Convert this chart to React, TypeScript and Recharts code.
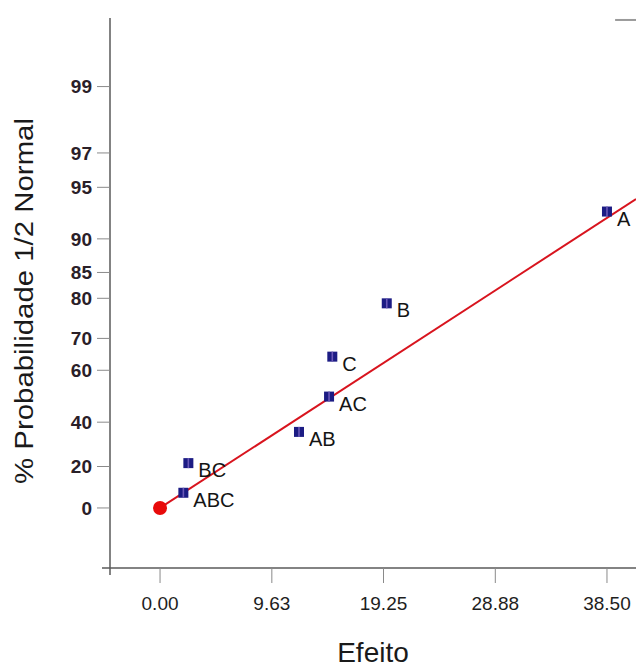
import {
  ComposedChart,
  Line,
  Scatter,
  XAxis,
  YAxis,
  ReferenceLine,
  Label,
} from 'recharts'

// Effects and their half-normal probability (%)
const effectNames = ['ABC', 'BC', 'AB', 'AC', 'C', 'B', 'A']
const effectValues = [2.01, 2.44, 11.97, 14.56, 14.84, 19.53, 38.5]
const effectProbs = [7.4, 21.6, 35.8, 50.4, 64.5, 78.9, 93.0]

// Reference line through the origin
const fitEffects = [0, 41]
const fitProbs = [0, 94.1]

const xTicks = [0, 9.63, 19.25, 28.88, 38.5]
const probTicks = [0, 20, 40, 60, 70, 80, 85, 90, 95, 97, 99]

const FONT = '"Liberation Sans", Arial, sans-serif'

// inverse standard normal CDF (Acklam's rational approximation)
const invNorm = (p: number) => {
  const a = [-39.69683028665376, 220.9460984245205, -275.9285104469687, 138.357751867269, -30.66479806614716, 2.506628277459239]
  const b = [-54.47609879822406, 161.5858368580409, -155.6989798598866, 66.80131188771972, -13.28068155288572]
  const c = [-0.007784894002430293, -0.3223964580411365, -2.400758277161838, -2.549732539343734, 4.374664141464968, 2.938163982698783]
  const d = [0.007784695709041462, 0.3224671290700398, 2.445134137142996, 3.754408661907416]
  const pl = 0.02425
  if (p < pl) {
    const q = Math.sqrt(-2 * Math.log(p))
    return (((((c[0] * q + c[1]) * q + c[2]) * q + c[3]) * q + c[4]) * q + c[5]) /
      ((((d[0] * q + d[1]) * q + d[2]) * q + d[3]) * q + 1)
  }
  if (p > 1 - pl) {
    const q = Math.sqrt(-2 * Math.log(1 - p))
    return -(((((c[0] * q + c[1]) * q + c[2]) * q + c[3]) * q + c[4]) * q + c[5]) /
      ((((d[0] * q + d[1]) * q + d[2]) * q + d[3]) * q + 1)
  }
  const q = p - 0.5
  const r = q * q
  return (((((a[0] * r + a[1]) * r + a[2]) * r + a[3]) * r + a[4]) * r + a[5]) * q /
    (((((b[0] * r + b[1]) * r + b[2]) * r + b[3]) * r + b[4]) * r + 1)
}

// half-normal probability (%) -> position on the probability axis
const toZ = (pct: number) => (pct <= 0 ? 0 : invNorm(0.5 + pct / 200))

const points = effectNames.map((name, i) => ({
  name,
  x: effectValues[i],
  z: toZ(effectProbs[i]),
}))
const fitData = fitEffects.map((x, i) => ({ x, z: toZ(fitProbs[i]) }))
const origin = [fitData[0]]

const X_MIN = -4.31
const X_MAX = 41
const Y_MIN = -0.367
const Y_MAX = 2.995

const EffectMarker = (props: any) => {
  const { cx, cy, payload } = props
  return (
    <g>
      <rect x={cx - 5} y={cy - 5} width={10} height={10} fill="#1c1c84" />
      <rect x={cx - 0.8} y={cy - 5} width={1.6} height={10} fill="#6a58b8" />
      <text x={cx + 10} y={cy + 14} fontSize={20} fontFamily={FONT} fill="#141414">
        {payload.name}
      </text>
    </g>
  )
}

const OriginDot = (props: any) => (
  <circle cx={props.cx} cy={props.cy} r={7} fill="#e80a0a" />
)

export default function App() {
  return (
    <div style={{ position: 'absolute', left: 0, top: 0, background: '#fff' }}>
      <ComposedChart
        width={636}
        height={667}
        margin={{ top: 18, right: 0, bottom: 0, left: 0 }}
      >
        <XAxis
          type="number"
          dataKey="x"
          domain={[X_MIN, X_MAX]}
          ticks={xTicks}
          interval={0}
          allowDataOverflow
          height={99}
          axisLine={false}
          tickSize={15}
          tickMargin={14}
          tickLine={{ stroke: '#8a8a8a' }}
          tickFormatter={(v: number) => v.toFixed(2)}
          tick={{ fontSize: 19, fontFamily: FONT, fill: '#1e1e1e' }}
        >
          <Label
            content={() => (
              <text x={373} y={662} textAnchor="middle" fontSize={28} fontFamily={FONT} fill="#1a1a1a">
                Efeito
              </text>
            )}
          />
        </XAxis>
        <YAxis
          type="number"
          dataKey="z"
          domain={[Y_MIN, Y_MAX]}
          ticks={probTicks.map(toZ)}
          interval={0}
          allowDataOverflow
          width={110}
          axisLine={false}
          tickSize={13}
          tickMargin={5}
          tickLine={{ stroke: '#8a8a8a' }}
          tickFormatter={(_v: number, i: number) => String(probTicks[i])}
          tick={{ fontSize: 19, fontFamily: FONT, fontWeight: 'bold', fill: '#2a2028' }}
        >
          <Label
            content={() => (
              <text
                x={33}
                y={301}
                transform="rotate(-90 33 301)"
                textAnchor="middle"
                fontSize={25}
                fontFamily={FONT}
                fill="#1a1a1a"
                textLength={366}
                lengthAdjust="spacingAndGlyphs"
              >
                % Probabilidade 1/2 Normal
              </text>
            )}
          />
        </YAxis>
        {/* axis lines, slightly overhanging each other */}
        <ReferenceLine
          segment={[{ x: X_MIN, y: -0.41 }, { x: X_MIN, y: Y_MAX }]}
          stroke="#5a5a5a"
          strokeWidth={1.5}
          ifOverflow="visible"
        />
        <ReferenceLine
          segment={[{ x: -5.0, y: Y_MIN }, { x: X_MAX, y: Y_MIN }]}
          stroke="#5a5a5a"
          strokeWidth={1.5}
          ifOverflow="visible"
        />
        <ReferenceLine
          segment={[{ x: 39.2, y: 2.983 }, { x: X_MAX, y: 2.983 }]}
          stroke="#9a9a9a"
          strokeWidth={2}
          ifOverflow="visible"
        />
        <Line
          data={fitData}
          dataKey="z"
          type="linear"
          stroke="#d8141e"
          strokeWidth={2}
          dot={false}
          isAnimationActive={false}
        />
        <Scatter data={origin} dataKey="z" shape={<OriginDot />} isAnimationActive={false} />
        <Scatter data={points} dataKey="z" shape={<EffectMarker />} isAnimationActive={false} />
      </ComposedChart>
    </div>
  )
}
